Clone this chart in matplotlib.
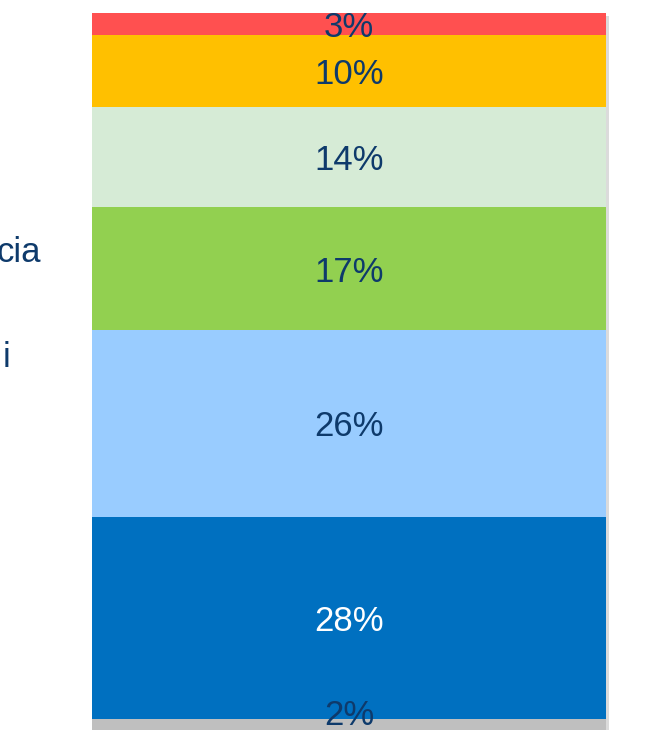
import matplotlib
matplotlib.use("Agg")
import matplotlib.pyplot as plt
import matplotlib.patheffects as pe

plt.rcParams['font.family'] = ['Liberation Sans', 'DejaVu Sans']

# segments from bottom to top
shares = [2, 28, 26, 17, 14, 10, 3]
labels = ["2%", "28%", "26%", "17%", "14%", "10%", "3%"]
colors = ["#BFBFBF", "#0070C0", "#99CCFF", "#92D050", "#D6EBD6", "#FFC000", "#FF5050"]
text_colors = ["#0E3A6B", "#FFFFFF", "#0E3A6B", "#0E3A6B", "#0E3A6B", "#0E3A6B", "#0E3A6B"]

# cropped category labels on the left edge
side_labels = ["cia", "i"]

navy = "#0E3A6B"

fig = plt.figure(figsize=(6.66, 7.3), dpi=100)
ax = fig.add_axes([0, 0, 1, 1])

# one shadow behind the whole column
back = ax.bar(0, sum(shares), width=1, color="white", linewidth=0)
back[0].set_path_effects([pe.SimplePatchShadow(offset=(2, -2), shadow_rgbFace="#888888", alpha=0.3),
                          pe.Normal()])

bottom = 0
for share, lab, col, tcol in zip(shares, labels, colors, text_colors):
    ax.bar(0, share, width=1, bottom=bottom, color=col, linewidth=0)
    y = bottom + share / 2
    if share < 3 and bottom == 0:
        y = 2.9
    ax.text(0, y, lab, ha="center", va="center_baseline", fontsize=25, color=tcol)
    bottom += share

ax.set_xlim(-0.5 - 92 / 514, 0.5 + 60 / 514)
ax.set_ylim(3 / 7.2, 100 + 13 / 7.2)
ax.axis("off")

fig.text(41 / 666, (730 - 249) / 730, side_labels[0], ha="right", va="center_baseline",
         fontsize=25, color=navy)
fig.text(10 / 666, (730 - 354) / 730, side_labels[1], ha="right", va="center_baseline",
         fontsize=25, color=navy)

fig.savefig("out.png", dpi=100)
